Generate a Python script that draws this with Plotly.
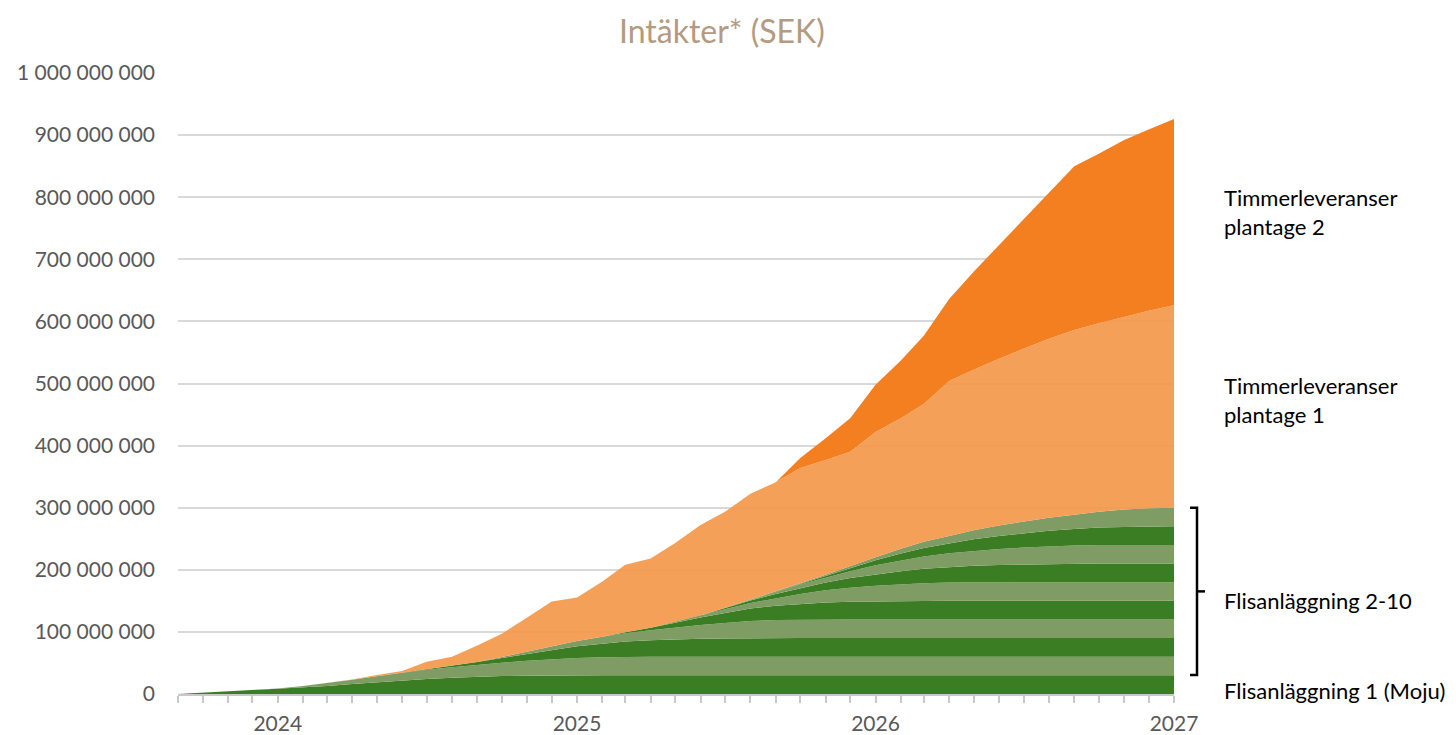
import pandas as pd
import plotly.graph_objects as go

# monthly points, Sep 2023 .. Jan 2027 (41 months)
months = pd.date_range("2023-09-01", "2027-01-01", freq="MS")

# revenue per series, millions SEK
flis_1 = [0, 2, 4, 6, 8, 10.5, 13, 16, 19, 21.5, 24, 26, 28, 29, 29.5, 30, 30, 30, 30, 30,
          30, 30, 30, 30, 30, 30, 30, 30, 30, 30, 30, 30, 30, 30, 30, 30, 30, 30, 30, 30, 30]
flis_2 = [0, 0, 0, 0, 1, 2.5, 4.5, 7, 9.5, 12.5, 15, 17, 19, 21.5, 24, 26, 28, 29, 30, 30,
          30, 30, 30, 30, 30, 30, 30, 30, 30, 30, 30, 30, 30, 30, 30, 30, 30, 30, 30, 30, 30]
flis_3 = [0, 0, 0, 0, 0, 0, 0, 0, 0, 0, 1, 2, 4.5, 7.5, 11, 15, 19, 22, 24.5, 26.5,
          28, 29, 29.5, 30, 30, 30, 30, 30, 30, 30, 30, 30, 30, 30, 30, 30, 30, 30, 30, 30, 30]
flis_4 = [0, 0, 0, 0, 0, 0, 0, 0, 0, 0, 0, 0, 0, 1.5, 3.5, 6, 8.5, 11, 13.5, 16,
          19, 22, 25, 27.5, 29, 29.7, 30, 30, 30, 30, 30, 30, 30, 30, 30, 30, 30, 30, 30, 30, 30]
flis_5 = [0, 0, 0, 0, 0, 0, 0, 0, 0, 0, 0, 0, 0, 0, 0, 0, 0, 0, 1.5, 4,
          8, 12, 16, 20, 23, 25.5, 27.5, 28.7, 29.3, 29.8, 30, 30, 30, 30, 30, 30, 30, 30, 30, 30, 30]
flis_6 = [0, 0, 0, 0, 0, 0, 0, 0, 0, 0, 0, 0, 0, 0, 0, 0, 0, 0, 0, 0,
          1, 3, 6, 9, 12.5, 16, 19.5, 22.5, 25, 27, 28.5, 29.5, 30, 30, 30, 30, 30, 30, 30, 30, 30]
flis_7 = [0, 0, 0, 0, 0, 0, 0, 0, 0, 0, 0, 0, 0, 0, 0, 0, 0, 0, 0, 0,
          0, 0.5, 2, 4, 6.5, 9.5, 12.5, 15.5, 18.5, 21, 23, 25, 26.5, 27.7, 28.5, 29.2, 29.7, 30, 30, 30, 30]
flis_8 = [0, 0, 0, 0, 0, 0, 0, 0, 0, 0, 0, 0, 0, 0, 0, 0, 0, 0, 0, 0,
          0, 0, 0.5, 1.5, 3, 5.5, 8, 11, 14.5, 17.5, 20, 22, 24, 25.8, 27.3, 28.5, 29.4, 30, 30, 30, 30]
flis_9 = [0, 0, 0, 0, 0, 0, 0, 0, 0, 0, 0, 0, 0, 0, 0, 0, 0, 0, 0, 0,
          0, 0, 0, 0, 0.5, 1.5, 3, 5.5, 8, 11, 13.5, 16, 18.5, 21, 23, 25, 26.7, 28, 29, 29.6, 30]
flis_10 = [0, 0, 0, 0, 0, 0, 0, 0, 0, 0, 0, 0, 0, 0, 0, 0, 0, 0, 0, 0,
           0, 0, 0, 0, 0, 0.5, 1.5, 3, 5, 7.5, 10, 12, 14.5, 17, 19, 21, 23, 25.5, 28, 29.5, 30]
plantage_1 = [0, 0, 0, 0, 0, 0, 0, 0.5, 2, 3, 12, 15, 26.5, 37.5, 55, 72, 70, 89, 108.5, 111.5,
              127, 145.5, 154.5, 170.5, 176.5, 185.8, 185, 183.8, 201.7, 210.2, 222, 249.5, 258.5,
              268.5, 278.2, 288.3, 297.2, 303.5, 310, 317.9, 326]
plantage_2 = [0, 0, 0, 0, 0, 0, 0, 0, 0, 0, 0, 0, 0, 0, 0, 0, 0, 0, 0, 0,
              0, 0, 0, 0, 0, 16, 35, 54, 76, 93, 110, 132, 158, 183, 209, 236, 264, 273, 285, 292, 300]

flis = [flis_1, flis_2, flis_3, flis_4, flis_5, flis_6, flis_7, flis_8, flis_9, flis_10]

dark_green = "#3b7d23"
light_green = "#809c65"
light_orange = "rgba(244,150,70,0.9)"
dark_orange = "#f47f20"

fig = go.Figure()
for i, s in enumerate(flis):
    fig.add_trace(go.Scatter(
        x=months, y=[v * 1e6 for v in s], name="Flisanläggning %d" % (i + 1),
        stackgroup="one", mode="lines", line=dict(width=0),
        fillcolor=dark_green if i % 2 == 0 else light_green))
fig.add_trace(go.Scatter(x=months, y=[v * 1e6 for v in plantage_1], name="Timmerleveranser plantage 1",
                         stackgroup="one", mode="lines", line=dict(width=0), fillcolor=light_orange))
fig.add_trace(go.Scatter(x=months, y=[v * 1e6 for v in plantage_2], name="Timmerleveranser plantage 2",
                         stackgroup="one", mode="lines", line=dict(width=0), fillcolor=dark_orange))

font = "Lato, 'Open Sans', sans-serif"
grey = "#595959"

# page body has an 8px margin, so the figure is 8px smaller than the window
fig.update_layout(
    width=1448, height=727,
    margin=dict(l=170, r=282, t=65, b=41),
    paper_bgcolor="white", plot_bgcolor="white",
    showlegend=False, hovermode=False,
    separators=", ",
    font=dict(family=font, size=21, color=grey),
    title=dict(text="Intäkter* (SEK)", x=0.493, xref="container", y=0.967, yref="container",
               xanchor="center", yanchor="middle",
               font=dict(family=font, size=32, color="#b39a80")),
)
fig.update_yaxes(range=[0, 1e9], dtick=1e8, tickformat=",d", showgrid=True, gridcolor="#d9d9d9",
                 gridwidth=1.5, zeroline=False, showline=False, ticks="", ticklabelstandoff=22,
                 automargin=False, tickfont=dict(size=21, color=grey))
fig.update_xaxes(type="date", range=["2023-09-01", "2027-01-01"],
                 tickvals=["2024-01-01", "2025-01-01", "2026-01-01", "2027-01-01"],
                 ticktext=["2024", "2025", "2026", "2027"], automargin=False,
                 showgrid=False, showline=True, linecolor="#c8c8c8", linewidth=1.5,
                 ticks="outside", ticklen=7, tickcolor="#c8c8c8", tickwidth=1.5,
                 ticklabelstandoff=3, tickfont=dict(size=21, color=grey),
                 minor=dict(dtick="M1", ticks="outside", ticklen=7, tickcolor="#c8c8c8",
                            tickwidth=1.5, showgrid=False))

# right side labels
labels = [
    ("Timmerleveranser<br>plantage 2", 776e6),
    ("Timmerleveranser<br>plantage 1", 473e6),
    ("Flisanläggning 2-10", 150e6),
    ("Flisanläggning 1 (Moju)", 6e6),
]
for text, yv in labels:
    fig.add_annotation(text=text, x=1.048, xref="paper", y=yv, yref="y", xanchor="left",
                       yanchor="middle", align="left", showarrow=False,
                       font=dict(family=font, size=22, color="black"))

# bracket around Flisanläggning 2-10
bx = 1.0231
top = 300e6
bot = 30.5e6
mid = (top + bot) / 2
fig.add_shape(type="path", xref="paper", yref="y",
              path="M %f,%f L %f,%f L %f,%f L %f,%f" % (bx - 0.007, top, bx, top, bx, bot, bx - 0.007, bot),
              line=dict(color="black", width=2.5))
fig.add_shape(type="line", xref="paper", yref="y", x0=bx, x1=bx + 0.008, y0=mid, y1=mid,
              line=dict(color="black", width=2.5))

fig.write_html("out.html")
